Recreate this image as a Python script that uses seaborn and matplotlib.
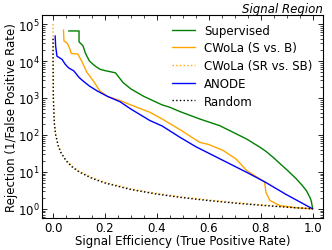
import seaborn as sns
import matplotlib.pyplot as plt
from matplotlib.ticker import AutoMinorLocator, LogLocator
import pandas as pd

# Values (TPR, 1/FPR)
sup_tpr = [0.06, 0.10, 0.10, 0.115, 0.125, 0.14, 0.16, 0.18, 0.20, 0.24, 0.27,
           0.30, 0.35, 0.42, 0.45, 0.488, 0.565, 0.642, 0.719, 0.745, 0.80, 0.82,
           0.85, 0.873, 0.90, 0.937, 0.96, 0.976, 0.99, 0.995, 1.0]
sup_rej = [6.5e4, 6.5e4, 3.3e4, 2.6e4, 1.6e4, 1.0e4, 7.5e3, 6.0e3, 5.5e3, 4.8e3, 2.6e3,
           1.75e3, 1.1e3, 650, 560, 430, 270, 178, 96, 78, 45, 36,
           24, 17, 11.5, 6.5, 4.3, 3.1, 2.0, 1.6, 1.0]

cwola_sb_tpr = [0.04, 0.042, 0.055, 0.065, 0.07, 0.095, 0.11, 0.13, 0.155, 0.18, 0.21,
                0.258, 0.32, 0.373, 0.42, 0.488, 0.565, 0.60, 0.655, 0.706, 0.745, 0.796,
                0.815, 0.82, 0.835, 0.873, 0.93, 1.0]
cwola_sb_rej = [6.9e4, 3.5e4, 3.0e4, 2.1e4, 1.6e4, 1.55e4, 1.0e4, 5.0e3, 2.9e3, 1.55e3, 1.1e3,
                850, 570, 410, 270, 140, 63, 55, 38, 22, 11, 6.5,
                5.3, 2.8, 1.7, 1.23, 1.08, 1.0]

cwola_srsb_tpr = [1e-5, 1e-4, 1e-3, 0.005, 0.01, 0.02, 0.03, 0.05, 0.075, 0.1, 0.15,
                  0.2, 0.3, 0.4, 0.5, 0.6, 0.7, 0.8, 0.9, 1.0]
cwola_srsb_rej = [1e5, 1.05e4, 1050, 210, 105, 53, 35, 21, 14, 10.5, 7.0,
                  5.2, 3.45, 2.6, 2.08, 1.73, 1.48, 1.29, 1.13, 1.0]

anode_tpr = [0.008, 0.01, 0.015, 0.035, 0.046, 0.06, 0.08, 0.10, 0.115, 0.14, 0.17,
             0.21, 0.258, 0.30, 0.373, 0.42, 0.488, 0.55, 0.63, 0.745, 0.815, 0.90, 1.0]
anode_rej = [4.8e4, 2.5e4, 1.35e4, 1.1e4, 8.3e3, 6.5e3, 5.4e3, 3.6e3, 2.9e3, 2.1e3, 1.55e3,
             1.1e3, 790, 500, 245, 175, 87, 48, 25, 9.8, 5.4, 2.4, 1.0]

rand_tpr = [2.5e-5, 1e-4, 1e-3, 0.005, 0.01, 0.02, 0.03, 0.05, 0.075, 0.1, 0.15,
            0.2, 0.3, 0.4, 0.5, 0.6, 0.7, 0.8, 0.9, 1.0]
rand_rej = [4e4, 1e4, 1000, 200, 100, 50, 33.3, 20, 13.3, 10, 6.67,
            5, 3.33, 2.5, 2, 1.67, 1.43, 1.25, 1.11, 1.0]

series = [
    ("Supervised", sup_tpr, sup_rej, "green", "-"),
    ("CWoLa (S vs. B)", cwola_sb_tpr, cwola_sb_rej, "orange", "-"),
    ("CWoLa (SR vs. SB)", cwola_srsb_tpr, cwola_srsb_rej, "orange", ":"),
    ("ANODE", anode_tpr, anode_rej, "blue", "-"),
    ("Random", rand_tpr, rand_rej, "black", ":"),
]

sns.set_style("ticks", {"axes.edgecolor": "black", "xtick.color": "black",
                        "ytick.color": "black", "text.color": "black",
                        "axes.labelcolor": "black"})
plt.rcParams["font.family"] = ["DejaVu Sans"]
fs = 8.5
plt.rcParams["font.size"] = fs

fig = plt.figure(figsize=(3.32, 2.51), dpi=100)
ax = fig.add_axes([0.127, 0.128, 0.846, 0.808])

for name, x, y, color, ls in series:
    df = pd.DataFrame({"tpr": x, "rej": y})
    sns.lineplot(data=df, x="tpr", y="rej", ax=ax, color=color, linestyle=ls,
                 linewidth=1.0, sort=False, estimator=None, label=name)

ax.set_yscale("log")
ax.set_xlim(-0.042, 1.04)
ax.set_ylim(0.57, 1.75e5)
ax.set_xticks([0.0, 0.2, 0.4, 0.6, 0.8, 1.0])
ax.xaxis.set_minor_locator(AutoMinorLocator(4))
ax.yaxis.set_major_locator(LogLocator(base=10, numticks=10))
ax.yaxis.set_minor_locator(LogLocator(base=10, subs=range(2, 10), numticks=20))
ax.tick_params(which="both", direction="in", top=True, right=True, labelsize=fs, pad=2)
ax.tick_params(which="major", length=3.5, width=0.6)
ax.tick_params(which="minor", length=2, width=0.5)
for s in ax.spines.values():
    s.set_linewidth(0.8)

ax.set_xlabel("Signal Efficiency (True Positive Rate)", fontsize=fs, labelpad=0)
ax.set_ylabel("Rejection (1/False Positive Rate)", fontsize=fs, labelpad=0)
ax.set_title("Signal Region", loc="right", style="italic", fontsize=fs, pad=2)

ax.legend(loc="upper right", bbox_to_anchor=(1.0, 1.01), frameon=False, fontsize=fs,
          handlelength=2.0, labelspacing=0.4, handletextpad=0.75)

plt.savefig("out.png", dpi=100)
